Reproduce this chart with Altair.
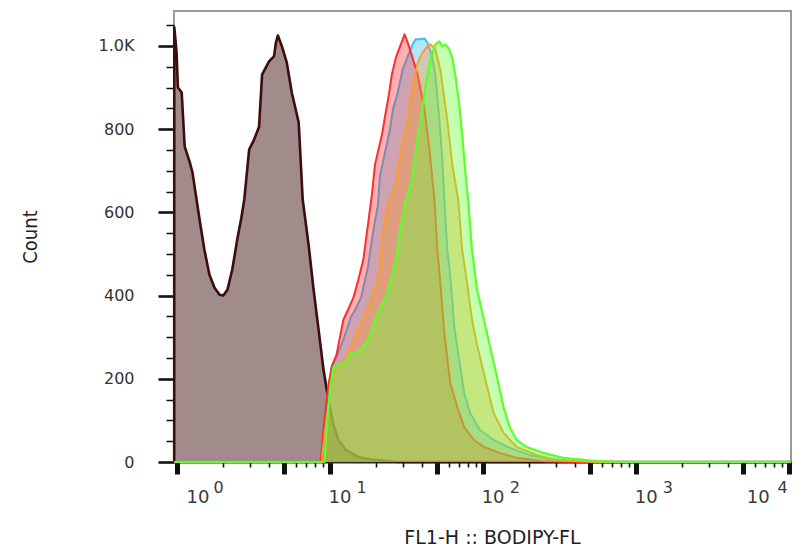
import altair as alt
import pandas as pd

# ---------------- data (FL1-H value, count) ----------------
brown_x = [0.965, 0.966, 1.0, 1.02, 1.08, 1.13, 1.22, 1.27, 1.35, 1.42, 1.52, 1.64, 1.77, 1.91, 2.02,
           2.15, 2.31, 2.49, 2.65, 2.77, 2.98, 3.21, 3.46, 3.62, 4.02, 4.33, 4.46, 4.59, 4.88, 5.25,
           5.66, 6.28, 6.67, 7.29, 7.86, 8.47, 9.13, 9.82, 10.6, 11.4, 12.8, 15.4, 19.2, 27.9, 10300]
brown_y = [0, 1045, 984, 900, 888, 758, 720, 696, 631, 578, 510, 450, 419, 402, 400,
           414, 462, 534, 587, 631, 751, 775, 806, 931, 963, 975, 1008, 1025, 999, 960,
           888, 816, 631, 522, 414, 318, 221, 149, 89, 53, 29, 12, 5, 0, 0]

blue_x = [0.965, 8.72, 9.39, 10.3, 11.1, 12.3, 13.8, 14.7, 16.1, 17.8, 19.2, 20.7, 21.3, 23.0, 24.8,
          25.9, 27.9, 30.0, 32.4, 34.9, 36.5, 39.3, 41.7, 43.6, 46.3, 49.1, 52.1, 54.5, 56.2, 58.7,
          60.5, 63.3, 65.2, 70.3, 75.7, 82.8, 96.0, 118, 150, 202, 273, 408, 638, 10300]
blue_y = [0, 0, 125, 229, 253, 294, 349, 366, 397, 469, 551, 619, 686, 744, 799,
          847, 888, 943, 975, 1004, 1016, 1016, 1018, 1008, 980, 931, 823, 727, 631, 510,
          469, 390, 325, 245, 166, 118, 77, 53, 34, 17, 7, 2, 0, 0]

red_x = [0.965, 8.72, 9.25, 9.82, 10.4, 11.1, 12.3, 13.2, 14.3, 15.4, 16.6, 17.8, 18.9, 19.8, 20.7,
         22.0, 23.0, 24.4, 25.5, 27.1, 29.2, 30.9, 32.4, 33.8, 37.6, 41.7, 44.9, 48.4, 50.6, 52.9,
         56.2, 61.4, 68.2, 75.7, 87.8, 102, 129, 167, 249, 408, 10300]
red_y = [0, 0, 101, 185, 233, 258, 342, 366, 395, 438, 486, 570, 643, 715, 746,
         787, 830, 883, 931, 972, 1004, 1028, 1008, 987, 931, 847, 751, 631, 510, 431,
         310, 190, 132, 84, 53, 36, 22, 10, 2, 0, 0]

orange_x = [0.965, 8.85, 9.53, 10.3, 11.1, 12.7, 13.8, 14.9, 17.0, 18.6, 20.1, 21.3, 22.3, 24.0, 26.7,
            29.2, 32.4, 34.9, 37.6, 40.5, 43.6, 45.6, 49.1, 52.9, 58.7, 63.3, 69.2, 73.5, 79.1, 85.2,
            91.9, 107, 118, 137, 167, 225, 303, 549, 10300]
orange_y = [0, 0, 101, 185, 229, 245, 277, 310, 349, 390, 421, 469, 551, 619, 662,
            744, 823, 902, 960, 984, 999, 1004, 992, 943, 823, 715, 631, 510, 431, 342,
            282, 181, 118, 70, 36, 17, 5, 0, 0]

green_x = [0.965, 9.25, 9.53, 10.1, 10.6, 11.4, 12.7, 13.8, 14.9, 16.1, 17.8, 19.2, 20.7, 22.3, 23.3,
           25.9, 27.9, 28.7, 31.4, 33.8, 36.5, 39.3, 42.3, 45.6, 49.1, 52.1, 54.5, 57.0, 60.5, 63.3,
           66.2, 70.3, 73.5, 76.8, 80.3, 85.2, 91.9, 102, 111, 124, 137, 150, 167, 194, 249,
           336, 549, 859, 10300]
green_y = [0, 0, 70, 181, 229, 233, 238, 262, 262, 270, 294, 325, 359, 383, 397,
           455, 510, 551, 631, 662, 744, 823, 902, 968, 1004, 1011, 999, 1004, 992, 972,
           931, 859, 787, 703, 631, 510, 414, 342, 282, 205, 132, 84, 53, 36, 22,
           10, 2, 0, 0]

decades = [1, 10, 100, 1000, 10000]
decade_base = ["10", "10", "10", "10", "10"]
decade_exp = ["0", "1", "2", "3", "4"]

x_ticks = [m * 10 ** k for k in range(4) for m in range(1, 10)] + [10000]
y_ticks = list(range(0, 1051, 50))

# ---------------- styles ----------------
series = [
    (brown_x, brown_y, "#3d0c0c", "#3d0c0c", 0.48, 2.6),
    (blue_x, blue_y, "#33c0ff", "#33c0ff", 0.38, 2.0),
    (red_x, red_y, "#ff2e2e", "#ff3333", 0.38, 2.0),
    (orange_x, orange_y, "#ff9a2e", "#ff9933", 0.38, 2.0),
    (green_x, green_y, "#5cff2e", "#66ff33", 0.38, 2.2),
]

W, H = 617, 451
x_scale = alt.Scale(type="log", domain=[0.962, 10350], nice=False)
y_scale = alt.Scale(domain=[0, 1084], nice=False, zero=True)

major_x = "indexof([1,5,10,50,100,500,1000,5000,10000], datum.value) >= 0"
x_axis = alt.Axis(
    values=x_ticks, labels=False, grid=False,
    tickSize={"condition": {"test": major_x, "value": 12}, "value": 5},
    tickWidth={"condition": {"test": major_x, "value": 5}, "value": 1.6},
    tickColor="#111", domainColor="#2a2a2a", domainWidth=2,
    title="FL1-H :: BODIPY-FL", titleFont="DejaVu Sans", titleFontSize=19,
    titleFontWeight="normal", titleColor="#222",
    titleX=318, titleY=75, titleBaseline="middle", titleAlign="center",
)
major_y = "datum.value % 200 == 0"
y_axis = alt.Axis(
    values=y_ticks, grid=False, domain=False, labelOverlap=False,
    labelExpr="datum.value % 200 == 0 ? (datum.value == 1000 ? '1.0K' : '' + datum.value) : ''",
    tickSize={"condition": {"test": major_y, "value": 16}, "value": 8},
    tickWidth={"condition": {"test": major_y, "value": 2.6}, "value": 1.5},
    tickColor="#111", labelFont="DejaVu Sans", labelFontSize=16, labelColor="#333",
    labelPadding=24,
    title="Count", titleFont="DejaVu Sans Condensed, Roboto", titleFontSize=20,
    titleFontWeight="normal", titleColor="#222", titleAngle=270,
    titleX=-144, titleY=H / 2, titleBaseline="middle", titleAlign="center",
)

layers = []
for xs, ys, line_c, fill_c, op, sw in series:
    df = pd.DataFrame({"x": xs, "count": ys})
    base = alt.Chart(df).encode(
        x=alt.X("x:Q", scale=x_scale, axis=x_axis),
        y=alt.Y("count:Q", scale=y_scale, axis=y_axis),
    )
    layers.append(base.mark_area(color=fill_c, opacity=op, interpolate="linear"))
    layers.append(base.mark_line(color=line_c, strokeWidth=sw, strokeJoin="round",
                                 interpolate="linear"))

lab = pd.DataFrame({"x": decades, "base": decade_base, "exp": decade_exp})
lab_base = alt.Chart(lab).encode(x=alt.X("x:Q", scale=x_scale, axis=x_axis))


def txt(filt, field, dx, align, size, ypix):
    return lab_base.transform_filter(filt).mark_text(
        align=align, baseline="alphabetic", dx=dx, font="DejaVu Sans",
        fontSize=size, color="#3a3a3a"
    ).encode(text=f"{field}:N", y=alt.value(ypix))


layers += [
    txt("datum.x == 1", "base", 10, "left", 18, H + 41),
    txt("datum.x > 1 && datum.x < 10000", "base", -1, "left", 18, H + 41),
    txt("datum.x == 10000", "base", -19, "right", 18, H + 41),
    txt("datum.x == 1", "exp", 37, "left", 16, H + 31),
    txt("datum.x > 1 && datum.x < 10000", "exp", 27, "left", 16, H + 31),
    txt("datum.x == 10000", "exp", -1, "right", 16, H + 31),
]

chart = alt.layer(*layers).properties(
    width=W, height=H,
    padding={"left": 166, "top": 3, "right": 1, "bottom": 86},
    autosize=alt.AutoSizeParams(type="none"),
    background="white",
).configure_view(stroke="#9a9a9a", strokeWidth=2)

chart.save("out.html", embed_options={"renderer": "svg", "actions": False})
